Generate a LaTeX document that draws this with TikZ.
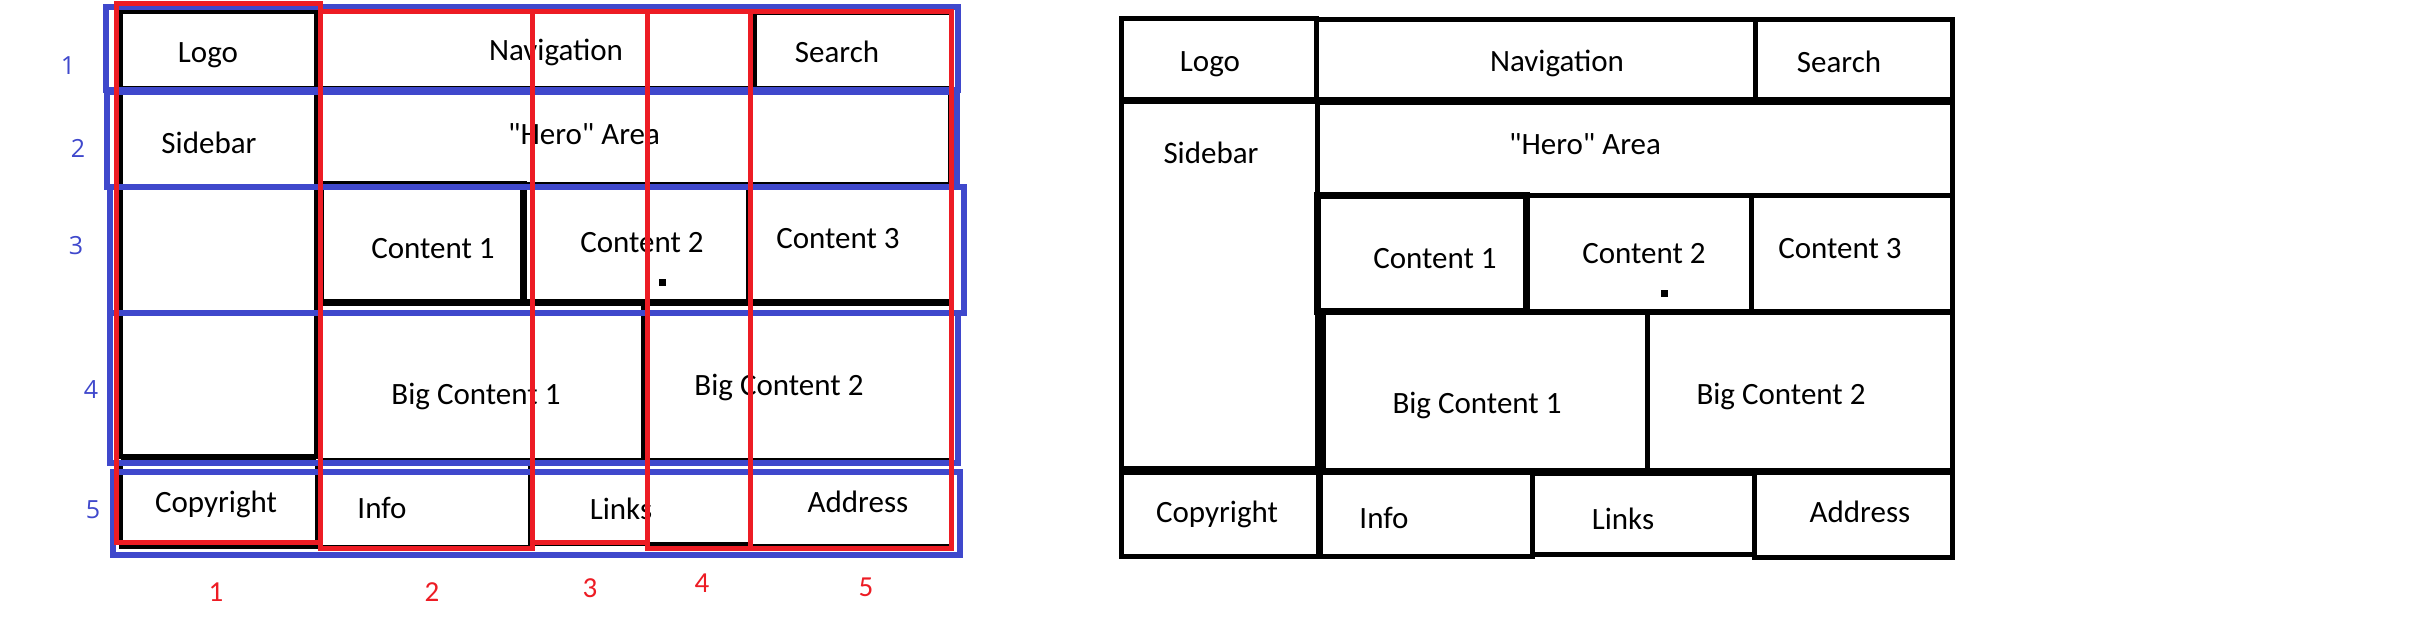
\documentclass[tikz,border=0pt]{standalone}
\usepackage{fontspec}
\setmainfont{Carlito}[Ligatures=TeXOff]
\newfontfamily\numfont{Open Sans}
\definecolor{pred}{RGB}{237,28,36}
\definecolor{pblue}{RGB}{63,72,204}
\begin{document}
\begin{tikzpicture}[x=1pt,y=-1pt,
  lbox/.style={draw=black,line width=4pt},
  rbox/.style={draw=black,line width=5pt},
  heavy/.style={line width=7pt},
  lbl/.style={anchor=base,inner sep=0pt,font=\fontsize{31}{37}\selectfont},
  colline/.style={draw=pred,line width=5pt},
  rowline/.style={draw=pblue,line width=6pt},
  rnum/.style={text=pred,inner sep=0pt,font=\fontsize{29}{34}\selectfont},
  bnum/.style={text=pblue,inner sep=0pt,font=\numfont\fontsize{25}{30}\selectfont},
  dotmark/.style={fill=black}]
\useasboundingbox (0,0) rectangle (2420,618);
\fill[white] (0,0) rectangle (2420,618);

% ---------------- left diagram: black boxes ----------------
\draw[lbox] (121,12) rectangle (316,88);
\draw[lbox] (320,12) rectangle (755,88);
\draw[lbox] (755,13) rectangle (951,88);
\draw[lbox] (121,88) rectangle (316,457);
\draw[lbox] (320,88) rectangle (950,184);
\draw[lbox,heavy] (320,184) rectangle (523,302);
\draw[lbox] (523,184) rectangle (748,302);
\draw[lbox] (748,184) rectangle (951,302);
\draw[lbox,heavy] (320,302) -- (951,302);
\draw[lbox] (320,302) rectangle (643,460);
\draw[lbox] (643,302) rectangle (951,460);
\draw[lbox,heavy] (121,457) -- (316,457);
\draw[lbox] (121,462) rectangle (317,547);
\draw[lbox] (320,462) rectangle (530,547);
\draw[lbox] (530,462) rectangle (750,544);
\draw[lbox] (750,462) rectangle (951,546);
\fill[dotmark] (659,279) rectangle (666,286);

\node[lbl] (lLogo) at (208,63) {Logo};
\node[lbl] (lNav) at (556,61) {Navigation};
\node[lbl] (lSearch) at (837,63) {Search};
\node[lbl] (lSide) at (209,153) {Sidebar};
\node[lbl] (lHero) at (584,144) {"Hero" Area};
\node[lbl] (lC1) at (433,258) {Content 1};
\node[lbl] (lC2) at (642,252) {Content 2};
\node[lbl] (lC3) at (838,248) {Content 3};
\node[lbl] (lB1) at (476,404) {Big Content 1};
\node[lbl] (lB2) at (779,395) {Big Content 2};
\node[lbl] (lCopy) at (216,512) {Copyright};
\node[lbl] (lInfo) at (382,518) {Info};
\node[lbl] (lLinks) at (621,519) {Links};
\node[lbl] (lAddr) at (858,512) {Address};

% ---------------- grid overlay ----------------
\draw[rowline] (106,7) rectangle (958,90);
\draw[rowline] (107,92) rectangle (957,187);
\draw[rowline] (110,187) rectangle (964,313);
\draw[rowline] (110,313) rectangle (958,463);
\draw[rowline] (113,472) rectangle (960,555);

\draw[colline] (116,4) rectangle (320,542);
\draw[colline] (320,12) rectangle (532,548);
\draw[colline] (532,12) rectangle (647,542);
\draw[colline] (647,12) rectangle (750,548);
\draw[colline] (750,12) rectangle (951,548);

\node[bnum] (b1) at (68,66) {1};
\node[bnum] (b2) at (78,148) {2};
\node[bnum] (b3) at (76,246) {3};
\node[bnum] (b4) at (91,390) {4};
\node[bnum] (b5) at (93,510) {5};

\node[rnum] (r1) at (216,592) {1};
\node[rnum] (r2) at (432,592) {2};
\node[rnum] (r3) at (590,588) {3};
\node[rnum] (r4) at (702,583) {4};
\node[rnum] (r5) at (866,587) {5};

% ---------------- right diagram ----------------
\draw[rbox] (1121,19) rectangle (1316,99);
\draw[rbox] (1316,20) rectangle (1755,99);
\draw[rbox] (1755,20) rectangle (1952,99);
\draw[rbox] (1121,101) rectangle (1317,468);
\draw[rbox] (1317,102) rectangle (1952,195);
\draw[rbox,heavy] (1317,195) rectangle (1526,311);
\draw[rbox] (1526,195) rectangle (1751,311);
\draw[rbox] (1751,195) rectangle (1952,311);
\draw[rbox] (1320,312) rectangle (1647,470);
\draw[rbox,line width=9pt] (1321,312) -- (1321,470);
\draw[rbox] (1647,312) rectangle (1952,470);
\draw[rbox] (1121,472) rectangle (1318,556);
\draw[rbox] (1320,472) rectangle (1532,556);
\draw[rbox] (1532,473) rectangle (1754,554);
\draw[rbox] (1754,472) rectangle (1952,557);
\fill[dotmark] (1661,290) rectangle (1668,297);

\node[lbl] (rLogo) at (1210,72) {Logo};
\node[lbl] (rNav) at (1557,71) {Navigation};
\node[lbl] (rSearch) at (1839,73) {Search};
\node[lbl] (rSide) at (1211,163) {Sidebar};
\node[lbl] (rHero) at (1585,154) {"Hero" Area};
\node[lbl] (rC1) at (1435,268) {Content 1};
\node[lbl] (rC2) at (1644,263) {Content 2};
\node[lbl] (rC3) at (1840,258) {Content 3};
\node[lbl] (rB1) at (1477,413) {Big Content 1};
\node[lbl] (rB2) at (1781,404) {Big Content 2};
\node[lbl] (rCopy) at (1217,522) {Copyright};
\node[lbl] (rInfo) at (1384,528) {Info};
\node[lbl] (rLinks) at (1623,529) {Links};
\node[lbl] (rAddr) at (1860,522) {Address};
\end{tikzpicture}
\end{document}
